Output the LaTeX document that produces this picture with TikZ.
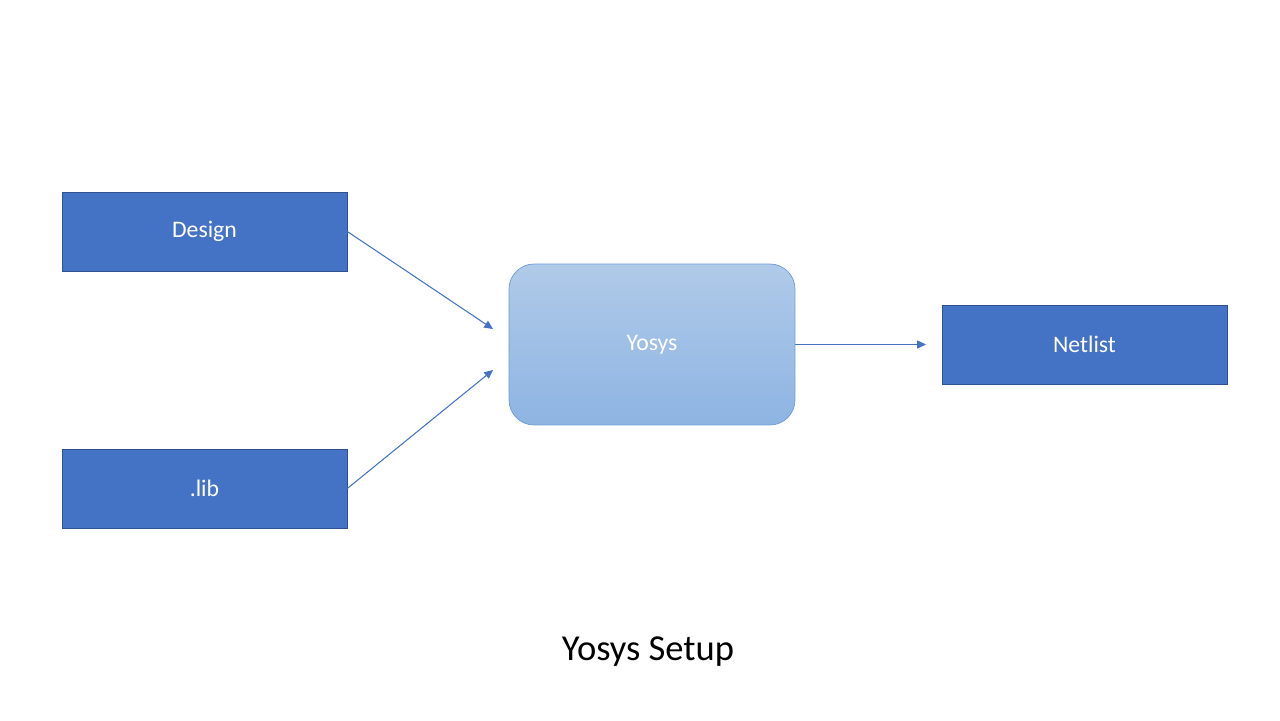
\documentclass[tikz,border=0pt]{standalone}
\usepackage{fontspec}
\setmainfont{Carlito}
\usetikzlibrary{arrows.meta}
\definecolor{boxblue}{HTML}{4472C4}
\definecolor{boxedge}{HTML}{2F528F}
\definecolor{yosystop}{HTML}{B0CAE8}
\definecolor{yosysbot}{HTML}{8EB4E3}
\definecolor{yosysedge}{HTML}{6D9BD5}
\tikzset{
  inbox/.style={draw=boxedge, fill=boxblue, text=white, minimum width=5.7cm, minimum height=1.58cm, font=\fontsize{13.5}{16}\selectfont, inner sep=0pt},
  toolbox/.style={draw=yosysedge, top color=yosystop, bottom color=yosysbot, text=white, rounded corners=0.5cm, minimum width=5.72cm, minimum height=3.22cm, font=\fontsize{13.5}{16}\selectfont, inner sep=0pt},
  flow/.style={draw=boxblue, line width=0.6pt, -{Triangle[length=5pt, width=4.5pt]}}
}
\begin{document}
\begin{tikzpicture}[x=0.02cm, y=-0.02cm]
    \useasboundingbox (0,0) rectangle (1280,720);
    % Inputs
    \node[inbox] (design) at (204.5, 231.5) {Design};
    \node[inbox] (lib) at (204.5, 488.5) {.lib};
    % Tool
    \node[toolbox] (yosys) at (652, 344.5) {Yosys};
    % Output
    \node[inbox] (netlist) at (1084.5, 344.5) {Netlist};
    % Arrow ends
    \coordinate (d2y) at (493, 329); \coordinate (l2y) at (493, 370);
    \coordinate (y2n) at (926, 344.5);
    \draw[flow] (design.east) -- (d2y);
    \draw[flow] (lib.east) -- (l2y);
    \draw[flow] (yosys.east) -- (y2n);
    % Caption
    \node[font=\fontsize{20.8}{25}\selectfont] (caption) at (648, 652) {Yosys Setup};
\end{tikzpicture}
\end{document}
